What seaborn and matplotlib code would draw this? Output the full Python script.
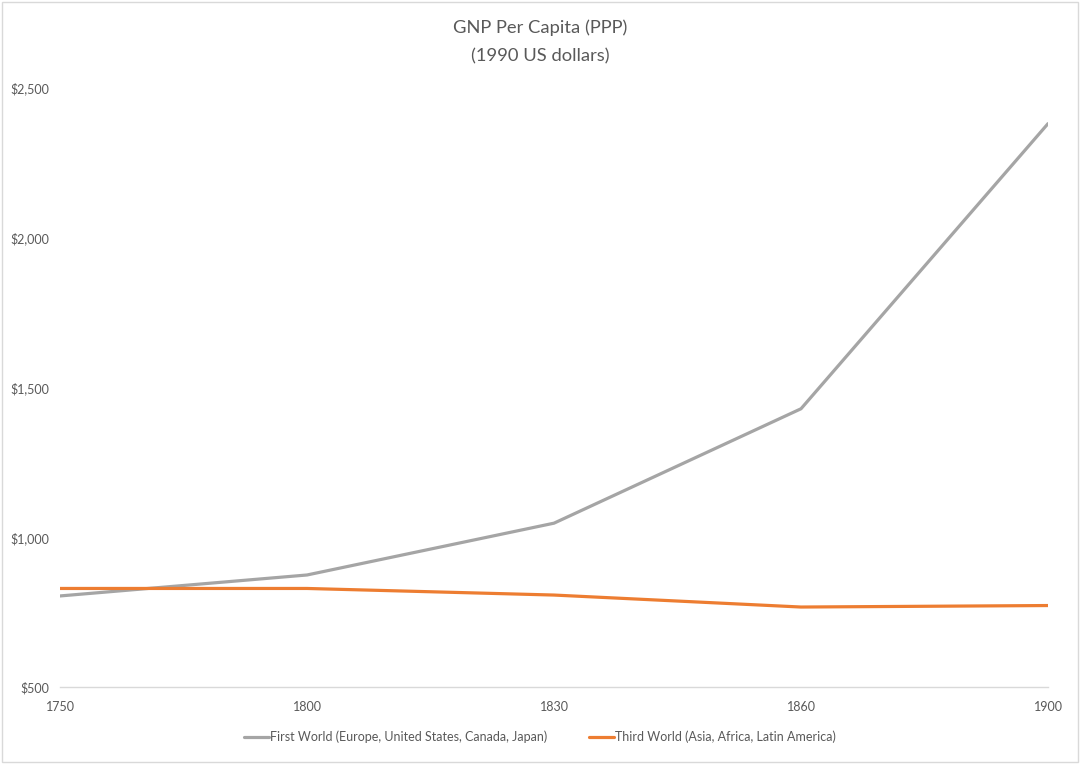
import matplotlib
matplotlib.use("Agg")
import matplotlib.pyplot as plt
import seaborn as sns
import pandas as pd
from matplotlib.ticker import FuncFormatter
from matplotlib.patches import Rectangle

years = ["1750", "1800", "1830", "1860", "1900"]
first_world = [804, 874, 1047, 1429, 2381]
third_world = [829, 829, 807, 767, 772]
series_names = ["First World (Europe, United States, Canada, Japan)",
                "Third World (Asia, Africa, Latin America)"]
title_lines = ["GNP Per Capita (PPP)", "(1990 US dollars)"]

df = pd.DataFrame({
    "Year": years * 2,
    "Value": first_world + third_world,
    "Series": [series_names[0]] * len(years) + [series_names[1]] * len(years),
})

sns.set_theme(style="white")
plt.rcParams['font.family'] = ['Lato', 'DejaVu Sans']

fig = plt.figure(figsize=(10.8, 7.64), dpi=100)
ax = fig.add_axes([60/1080, 1 - 687/764, (1048-60)/1080, (687-88)/764])

palette = {series_names[0]: "#A5A5A5", series_names[1]: "#ED7D31"}
sns.lineplot(data=df, x="Year", y="Value", hue="Series", palette=palette,
             linewidth=2.3, ax=ax, sort=False)

ax.set_xlim(0, 4)
ax.set_ylim(500, 2500)
ax.set_yticks([500, 1000, 1500, 2000, 2500])
ax.yaxis.set_major_formatter(FuncFormatter(lambda v, p: f"${int(v):,}"))
ax.set_xlabel("")
ax.set_ylabel("")
for s in ["top", "right", "left"]:
    ax.spines[s].set_visible(False)
ax.spines["bottom"].set_color("#D9D9D9")
ax.spines["bottom"].set_linewidth(1)
ax.tick_params(axis="both", length=0, labelsize=9, colors="#595959")
ax.tick_params(axis="x", pad=10)
ax.tick_params(axis="y", pad=8)

fig.text(0.5, 1 - 28/764, title_lines[0], ha="center", va="center",
         fontsize=13.2, color="#595959")
fig.text(0.5, 1 - 56/764, title_lines[1], ha="center", va="center",
         fontsize=13.2, color="#595959")

handles, labels = ax.get_legend_handles_labels()
ax.get_legend().remove()
fig.legend(handles, labels, loc="center", bbox_to_anchor=(0.5, 1 - 737/764),
           ncol=2, frameon=False, fontsize=9, labelcolor="#595959",
           handlelength=2.0, handletextpad=0.1, columnspacing=3.3)

fig.patches.append(Rectangle((0.002, 0.002), 0.996, 0.996, transform=fig.transFigure,
                             fill=False, edgecolor="#D9D9D9", linewidth=1))

fig.savefig("out.png", dpi=100, facecolor="white")
